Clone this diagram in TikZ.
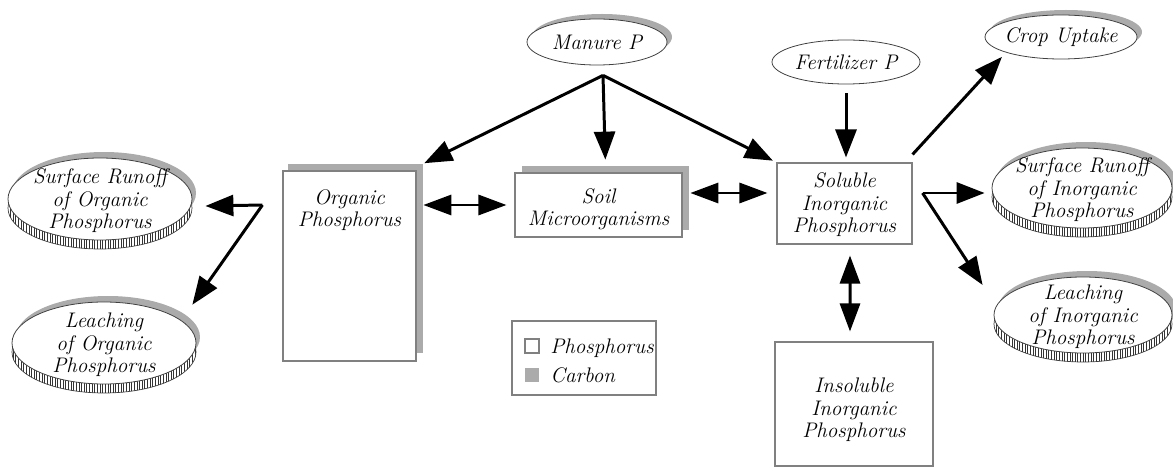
\documentclass[tikz,border=0pt]{standalone}
\usetikzlibrary{arrows.meta,shapes.geometric,patterns.meta,calc}
\colorlet{shadowc}{black!33}
\tikzset{
  lbl/.style={font=\fontsize{12}{12.8}\selectfont\itshape, align=center, inner sep=0pt},
  face/.style={ellipse, draw=black!75, line width=0.45pt, fill=white, inner sep=0pt},
  boxw/.style={draw=black!50, line width=0.6pt, fill=white, inner sep=0pt},
  boxs/.style={fill=shadowc, draw=none, inner sep=0pt},
  arr/.style={line width=1.7pt, -{Triangle[length=0.56cm,width=0.42cm]}},
  darr/.style={line width=1.7pt, {Triangle[length=0.56cm,width=0.40cm]}-{Triangle[length=0.56cm,width=0.40cm]}},
}
% name, cx, cy, rx, ry, text
\newcommand\mkcoin[6]{%
  \fill[shadowc] (#2+4,#3-6) ellipse [x radius=#4, y radius=#5];
  \filldraw[draw=black!75, line width=0.4pt, fill=white] (#2,#3+9) ellipse [x radius=#4, y radius=#5];
  \fill[pattern={Lines[angle=90,distance=1.5pt,line width=0.55pt]}, pattern color=black!80] (#2,#3+9) ellipse [x radius=#4, y radius=#5];
  \node[face, minimum width={2*#4*0.02cm}, minimum height={2*#5*0.02cm}] (#1) at (#2,#3) {};
  \node[lbl] (#1-t) at ($(#1)+(0,2)$) {#6};
}
% name, cx, cy, rx, ry, text (with shadow, no rim)
\newcommand\mkoval[6]{%
  \fill[shadowc] (#2+5,#3-5) ellipse [x radius=#4, y radius=#5];
  \node[face, minimum width={2*#4*0.02cm}, minimum height={2*#5*0.02cm}] (#1) at (#2,#3) {};
  \node[lbl] (#1-t) at (#1) {#6};
}
\begin{document}
\begin{tikzpicture}[x=0.02cm, y=-0.02cm]
\useasboundingbox (0,0) rectangle (1173,476);

% ---------- coins ----------
\mkcoin{sro}{100}{199}{92}{41}{Surface Runoff\\of Organic\\Phosphorus}
\mkcoin{loo}{104}{343}{92}{41}{Leaching\\of Organic\\Phosphorus}
\mkcoin{sri}{1082}{188}{90}{40}{Surface Runoff\\of Inorganic\\Phosphorus}
\mkcoin{lii}{1083}{315}{89}{38}{Leaching\\of Inorganic\\Phosphorus}

% ---------- ovals ----------
\mkoval{manure}{597}{42}{70}{23}{Manure P}
\mkoval{crop}{1061}{37}{76}{22}{Crop Uptake}
\node[face, minimum width={148*0.02cm}, minimum height={44*0.02cm}] (fert) at (846,62) {};
\node[lbl] (fert-t) at (fert) {Fertilizer P};

% ---------- boxes ----------
\node[boxs, minimum width={135*0.02cm}, minimum height={189*0.02cm}] (orgsh) at (355.5,258.5) {};
\node[boxw, minimum width={133*0.02cm}, minimum height={190*0.02cm}] (org) at (349.5,266) {};
\node[lbl] (org-t) at (349.5,210) {Organic\\Phosphorus};

\node[boxs, minimum width={167*0.02cm}, minimum height={64*0.02cm}] (soilsh) at (605.5,198) {};
\node[boxw, minimum width={167*0.02cm}, minimum height={64*0.02cm}] (soil) at (598.5,205) {};
\node[lbl] (soil-t) at (598.5,209) {Soil\\Microorganisms};

\node[boxw, minimum width={135*0.02cm}, minimum height={81*0.02cm}] (sol) at (844.5,203.5) {};
\node[lbl] (sol-t) at (844.5,205) {Soluble\\Inorganic\\Phosphorus};

\node[boxw, minimum width={158*0.02cm}, minimum height={124*0.02cm}] (insol) at (854,404) {};
\node[lbl] (insol-t) at (854,410) {Insoluble\\Inorganic\\Phosphorus};

% ---------- legend ----------
\node[boxw, minimum width={144*0.02cm}, minimum height={74*0.02cm}] (leg) at (584,358) {};
\node[boxw, minimum size={14*0.02cm}] (legP) at (532,346) {};
\node[boxs, minimum size={14*0.02cm}] (legC) at (532,375) {};
\node[lbl, anchor=base west] (legP-t) at (550,353) {Phosphorus};
\node[lbl, anchor=base west] (legC-t) at (550,382) {Carbon};

% ---------- connectors ----------
\coordinate (mfork) at ($(manure.south)+(6,10)$);
\draw[arr, shorten >=0.02cm] (mfork) -- (orgsh.north east);
\draw[arr, shorten >=0.12cm] (mfork) -- (soilsh.north);
\draw[arr, shorten >=0.08cm] (mfork) -- (sol.north west);

\draw[darr, shorten >=0.16cm] (orgsh.east |- soil.west) -- (soil.west);
\draw[darr] ($(soilsh.east)+(1,-5)$) -- ($(sol.west)+(-9,-10.5)$);

\draw[arr, shorten <=0.18cm, shorten >=0.1cm] (fert.south) -- (fert.south |- sol.north);
\draw[arr] ($(sol.north east)+(0,-8)$) -- ($(crop.south west)+(-5,4)$);

\coordinate (rfork) at ($(sol.east)+(10,-10.5)$);
\draw[arr, shorten >=0.14cm] (rfork) -- (rfork -| sri.west);
\draw[arr] (rfork) -- ($(lii.west)+(-11,-30)$);

\draw[darr] ($(sol.south)+(5.5,11)$) -- ($(insol.north)+(-4,-10)$);

\coordinate (lfork) at ($(org.west)+(-20,-61)$);
\draw[arr] (lfork) -- ($(sro.east)+(13,7)$);
\draw[arr] (lfork) -- ($(loo.north east)+(23,-9)$);
\end{tikzpicture}
\end{document}
